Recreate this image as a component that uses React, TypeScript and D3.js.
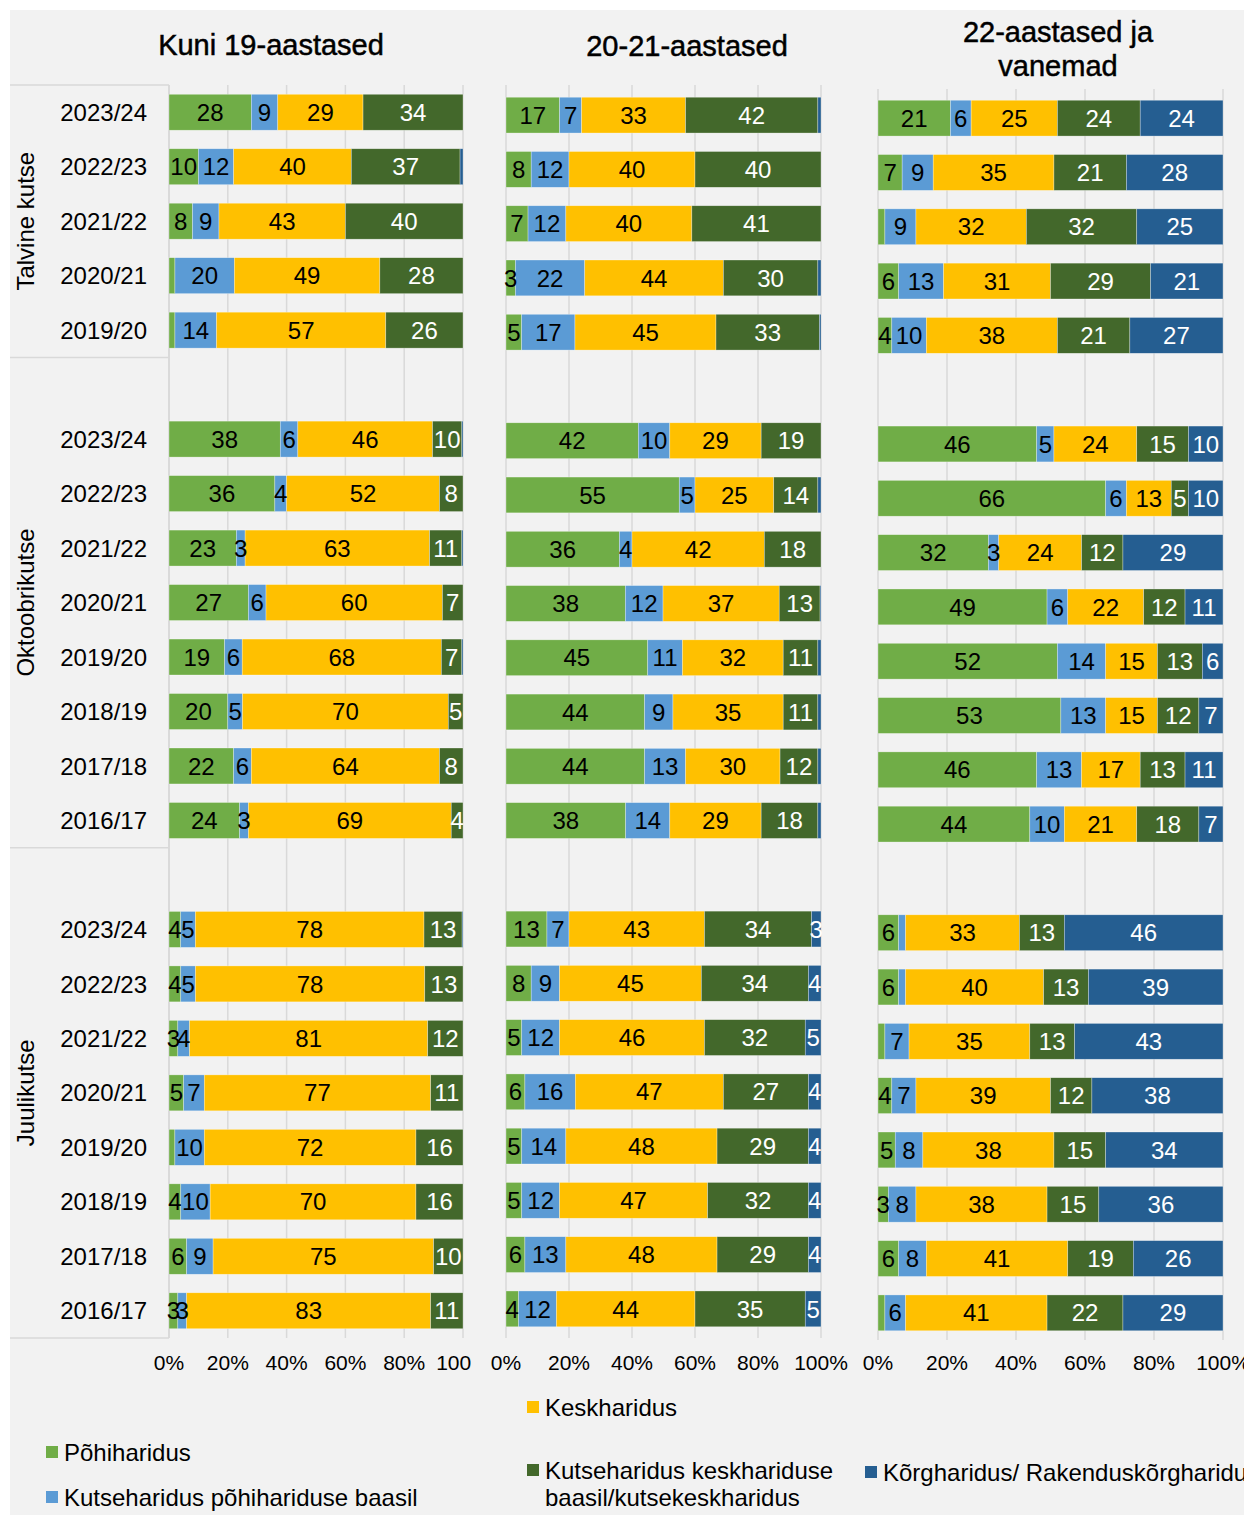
import React from 'react';
import * as d3 from 'd3';

// ---------- DATA ----------
const seriesNames = [
  'Põhiharidus',
  'Kutseharidus põhihariduse baasil',
  'Keskharidus',
  'Kutseharidus keskhariduse baasil/kutsekeskharidus',
  'Kõrgharidus/ Rakenduskõrgharidus',
];
const seriesColors = ['#70AD47', '#5B9BD5', '#FFC000', '#43682B', '#255E91'];
const labelColors = ['#000000', '#000000', '#000000', '#FFFFFF', '#FFFFFF'];

const panelTitles = [['Kuni 19-aastased'], ['20-21-aastased'], ['22-aastased ja', 'vanemad']];
const groupNames = ['Talvine kutse', 'Oktoobrikutse', 'Juulikutse'];
const talvineYears = ['2023/24', '2022/23', '2021/22', '2020/21', '2019/20'];
const oktoobriYears = ['2023/24', '2022/23', '2021/22', '2020/21', '2019/20', '2018/19', '2017/18', '2016/17'];
const juuliYears = ['2023/24', '2022/23', '2021/22', '2020/21', '2019/20', '2018/19', '2017/18', '2016/17'];
const xTicks = [0, 0.2, 0.4, 0.6, 0.8, 1];

// Kuni 19-aastased
const kuni19Talvine = [
  [28, 9, 29, 34, 0], [10, 12, 40, 37, 1], [8, 9, 43, 40, 0], [2, 20, 49, 28, 0], [2, 14, 57, 26, 0],
];
const kuni19Oktoober = [
  [38, 6, 46, 10, 0.4], [36, 4, 52, 8, 0], [23, 3, 63, 11, 0.4], [27, 6, 60, 7, 0],
  [19, 6, 68, 7, 0.4], [20, 5, 70, 5, 0], [22, 6, 64, 8, 0], [24, 3, 69, 4, 0],
];
const kuni19Juuli = [
  [4, 5, 78, 13, 0.3], [4, 5, 78, 13, 0], [3, 4, 81, 12, 0], [5, 7, 77, 11, 0],
  [2, 10, 72, 16, 0], [4, 10, 70, 16, 0], [6, 9, 75, 10, 0], [3, 3, 83, 11, 0],
];
// 20-21-aastased
const a2021Talvine = [
  [17, 7, 33, 42, 1], [8, 12, 40, 40, 0], [7, 12, 40, 41, 0], [3, 22, 44, 30, 1], [5, 17, 45, 33, 0.5],
];
const a2021Oktoober = [
  [42, 10, 29, 19, 0], [55, 5, 25, 14, 1], [36, 4, 42, 18, 0], [38, 12, 37, 13, 0.3],
  [45, 11, 32, 11, 1], [44, 9, 35, 11, 1], [44, 13, 30, 12, 1], [38, 14, 29, 18, 1],
];
const a2021Juuli = [
  [13, 7, 43, 34, 3], [8, 9, 45, 34, 4], [5, 12, 46, 32, 5], [6, 16, 47, 27, 4],
  [5, 14, 48, 29, 4], [5, 12, 47, 32, 4], [6, 13, 48, 29, 4], [4, 12, 44, 35, 5],
];
// 22-aastased ja vanemad
const a22Talvine = [
  [21, 6, 25, 24, 24], [7, 9, 35, 21, 28], [2, 9, 32, 32, 25], [6, 13, 31, 29, 21], [4, 10, 38, 21, 27],
];
const a22Oktoober = [
  [46, 5, 24, 15, 10], [66, 6, 13, 5, 10], [32, 3, 24, 12, 29], [49, 6, 22, 12, 11],
  [52, 14, 15, 13, 6], [53, 13, 15, 12, 7], [46, 13, 17, 13, 11], [44, 10, 21, 18, 7],
];
const a22Juuli = [
  [6, 2, 33, 13, 46], [6, 2, 40, 13, 39], [2, 7, 35, 13, 43], [4, 7, 39, 12, 38],
  [5, 8, 38, 15, 34], [3, 8, 38, 15, 36], [6, 8, 41, 19, 26], [2, 6, 41, 22, 29],
];

const panelData = [
  [kuni19Talvine, kuni19Oktoober, kuni19Juuli],
  [a2021Talvine, a2021Oktoober, a2021Juuli],
  [a22Talvine, a22Oktoober, a22Juuli],
];
const groupYears = [talvineYears, oktoobriYears, juuliYears];

// ---------- LAYOUT ----------
const W = 1254;
const H = 1515;
const FONT = 'Liberation Sans, Arial, Helvetica, sans-serif';
const panels = [
  { x0: 169, x1: 463, y0: 85, y1: 1338, gridTop: 85, gridBottom: 1338, titleX: 271, titleY: [55], tickClip: 471 },
  { x0: 506, x1: 821, y0: 88, y1: 1336, gridTop: 85, gridBottom: 1338, titleX: 687, titleY: [56], tickClip: 9999 },
  { x0: 878, x1: 1223, y0: 91, y1: 1340, gridTop: 89, gridBottom: 1340, titleX: 1058, titleY: [42, 76], tickClip: 9999 },
];

type Slot = { key: string; group: number; year: string | null; values: number[] | null };

function buildSlots(pi: number): Slot[] {
  const slots: Slot[] = [];
  groupYears.forEach((years, g) => {
    if (g > 0) slots.push({ key: `gap${g}`, group: g, year: null, values: null });
    years.forEach((y, i) => {
      slots.push({ key: `${g}-${y}`, group: g, year: y, values: panelData[pi][g][i] });
    });
  });
  return slots;
}

const keys = [0, 1, 2, 3, 4].map(String);

function Panel({ pi }: { pi: number }) {
  const p = panels[pi];
  const slots = buildSlots(pi);
  const y = d3.scaleBand<string>().domain(slots.map(s => s.key)).range([p.y0, p.y1]).paddingInner(0.34).paddingOuter(0.17);
  const x = d3.scaleLinear().domain([0, 1]).range([p.x0, p.x1]);
  const rows = slots.filter(s => s.values).map(s => {
    const o: any = { key: s.key };
    s.values!.forEach((v, i) => (o[String(i)] = v));
    return o;
  });
  const stack = d3.stack<any>().keys(keys).offset(d3.stackOffsetExpand);
  const series = stack(rows);
  const fmt = d3.format('.0%');
  const bw = y.bandwidth();
  return (
    <g>
      <defs>
        <clipPath id={`tickclip${pi}`}>
          <rect x={0} y={1340} width={p.tickClip} height={60} />
        </clipPath>
      </defs>
      {xTicks.map(t => (
        <line key={t} x1={x(t)} x2={x(t)} y1={p.gridTop} y2={p.gridBottom} stroke="#d9d9d9" strokeWidth={1.5} />
      ))}
      {series.map((ser, si) => (
        <g key={si}>
          {ser.map((d, ri) => (
            <rect
              key={ri}
              x={x(d[0])}
              y={y(d.data.key)}
              width={Math.max(0, x(d[1]) - x(d[0]))}
              height={bw}
              fill={seriesColors[si]}
              stroke="#ffffff"
              strokeOpacity={0.5}
              strokeWidth={0.6}
            />
          ))}
        </g>
      ))}
      {series.map((ser, si) => (
        <g key={'l' + si}>
          {ser.map((d, ri) => {
            const v = d.data[String(si)];
            if (v < 3) return null;
            return (
              <text
                key={ri}
                x={(x(d[0]) + x(d[1])) / 2}
                y={(y(d.data.key) as number) + bw / 2}
                dy="0.36em"
                textAnchor="middle"
                fontSize={24}
                fontFamily={FONT}
                fill={labelColors[si]}
              >
                {Math.round(v)}
              </text>
            );
          })}
        </g>
      ))}
      <g clipPath={`url(#tickclip${pi})`}>
        {xTicks.map(t => (
          <text key={t} x={x(t)} y={1362} dy="0.36em" textAnchor="middle" fontSize={21} fontFamily={FONT} fill="#000">
            {fmt(t)}
          </text>
        ))}
      </g>
      {panelTitles[pi].map((line, li) => (
        <text key={li} x={p.titleX} y={p.titleY[li]} textAnchor="middle" fontSize={29} fontFamily={FONT} fill="#000" stroke="#000" strokeWidth={0.5}>
          {line}
        </text>
      ))}
    </g>
  );
}

function CategoryAxis() {
  const p = panels[0];
  const slots = buildSlots(0);
  const y = d3.scaleBand<string>().domain(slots.map(s => s.key)).range([p.y0, p.y1]).paddingInner(0.34).paddingOuter(0.17);
  const step = y.step();
  const bw = y.bandwidth();
  const r0 = p.y0;
  const boundaries = [0, 5, 14, 23].map(i => r0 + i * step);
  return (
    <g>
      {boundaries.map((b, i) => (
        <line key={i} x1={10} x2={169} y1={b} y2={b} stroke="#d9d9d9" strokeWidth={1.5} />
      ))}
      <line x1={169} x2={169} y1={boundaries[0]} y2={boundaries[3]} stroke="#d9d9d9" strokeWidth={1.5} />
      {slots.filter(s => s.year).map(s => (
        <text key={s.key} x={147} y={(y(s.key) as number) + bw / 2} dy="0.36em" textAnchor="end" fontSize={24} fontFamily={FONT} fill="#000">
          {s.year}
        </text>
      ))}
      {groupNames.map((g, i) => {
        const cy = (boundaries[i] + boundaries[i + 1]) / 2;
        return (
          <text key={g} transform={`translate(25,${cy}) rotate(-90)`} dy="0.36em" textAnchor="middle" fontSize={24} fontFamily={FONT} fill="#000">
            {g}
          </text>
        );
      })}
    </g>
  );
}

function Legend() {
  const items = [
    { s: 2, x: 527, y: 1407, lines: [seriesNames[2]] },
    { s: 0, x: 46, y: 1452, lines: [seriesNames[0]] },
    { s: 1, x: 46, y: 1497, lines: [seriesNames[1]] },
    { s: 3, x: 527, y: 1470, lines: ['Kutseharidus keskhariduse', 'baasil/kutsekeskharidus'] },
    { s: 4, x: 865, y: 1472, lines: [seriesNames[4]] },
  ];
  return (
    <g>
      {items.map(it => (
        <g key={it.s}>
          <rect x={it.x} y={it.y - 6} width={12} height={12} fill={seriesColors[it.s]} />
          {it.lines.map((l, li) => (
            <text key={li} x={it.x + 18} y={it.y + li * 27} dy="0.36em" fontSize={24} fontFamily={FONT} fill="#000">
              {l}
            </text>
          ))}
        </g>
      ))}
    </g>
  );
}

export default function App() {
  return (
    <div style={{ position: 'absolute', left: 0, top: 0 }}>
      <svg width={W} height={H} style={{ display: 'block' }}>
        <rect x={0} y={0} width={W} height={H} fill="#ffffff" />
        <defs>
          <clipPath id="chartclip">
            <rect x={10} y={10} width={1234} height={1505} />
          </clipPath>
        </defs>
        <g clipPath="url(#chartclip)">
          <rect x={10} y={10} width={1234} height={1505} fill="#f2f2f2" />
          <CategoryAxis />
          {[0, 1, 2].map(pi => (
            <Panel key={pi} pi={pi} />
          ))}
          <Legend />
        </g>
      </svg>
    </div>
  );
}
